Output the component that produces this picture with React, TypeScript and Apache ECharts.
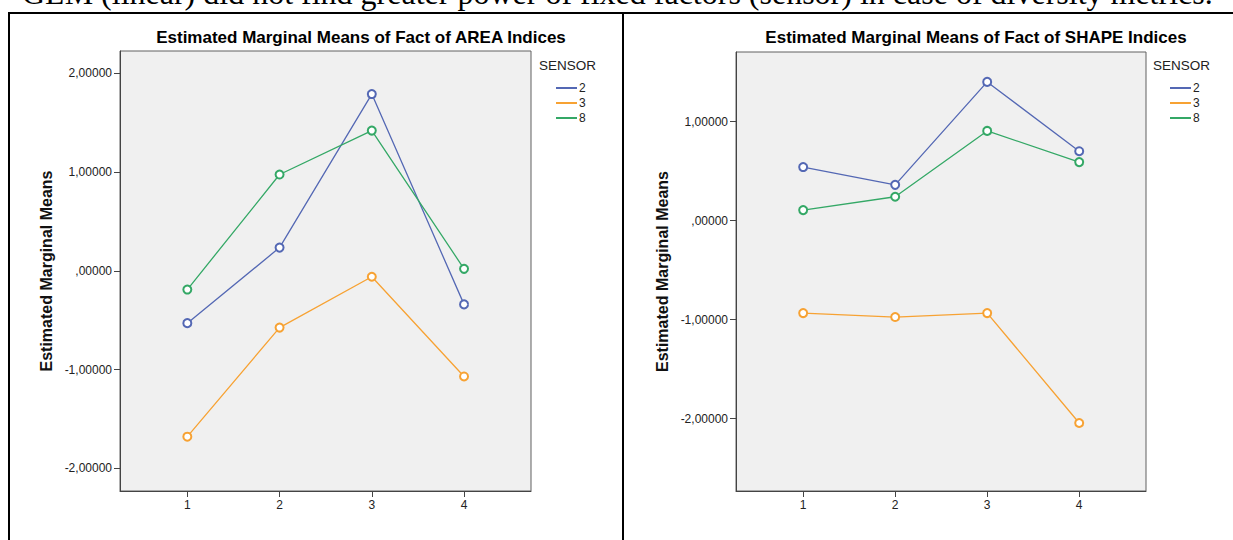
import React, { useEffect, useRef } from "react";
import * as echarts from "echarts";

const xCategories = [1, 2, 3, 4];
const sensorNames = ["2", "3", "8"];
const sensorColors = ["#5468b4", "#f7a233", "#34a866"];

// AREA indices
const areaSensor2 = [-0.53, 0.235, 1.79, -0.34];
const areaSensor3 = [-1.68, -0.575, -0.06, -1.07];
const areaSensor8 = [-0.19, 0.975, 1.42, 0.02];

// SHAPE indices
const shapeSensor2 = [0.54, 0.36, 1.4, 0.7];
const shapeSensor3 = [-0.935, -0.975, -0.935, -2.045];
const shapeSensor8 = [0.105, 0.24, 0.905, 0.59];

const yTicks = [-2, -1, 0, 1, 2];

const topText =
  "GLM (linear) did not find greater power of fixed factors (sensor) in case of diversity metrics.";
const leftTitle = "Estimated Marginal Means of Fact of AREA Indices";
const rightTitle = "Estimated Marginal Means of Fact of SHAPE Indices";
const yName = "Estimated Marginal Means";

const fmtY = (v: number) => (v === 0 ? ",00000" : v.toFixed(5).replace(".", ","));

export default function App() {
  const ref = useRef<HTMLDivElement>(null);
  useEffect(() => {
    if (!ref.current) return;
    const chart = echarts.init(ref.current, undefined, { renderer: "svg" });
    const font = "Arial, 'Liberation Sans', sans-serif";

    const makeX = (gridIndex: number) => ({
      type: "value",
      gridIndex,
      min: 0.27,
      max: 4.726,
      splitLine: { show: false },
      axisLine: { show: true, onZero: false, lineStyle: { color: "#444", width: 1 } },
      axisTick: { show: true, length: 6, customValues: xCategories, lineStyle: { color: "#444" } },
      axisLabel: {
        customValues: xCategories,
        formatter: (v: number) => String(Math.round(v)),
        color: "#222",
        fontSize: 12,
        fontFamily: font,
        margin: 8,
      },
    });
    const makeY = (gridIndex: number, min: number, max: number) => ({
      type: "value",
      gridIndex,
      min,
      max,
      name: yName,
      nameLocation: "middle",
      nameRotate: 90,
      nameGap: 66,
      nameTextStyle: { fontWeight: "bold", fontSize: 16, color: "#111", fontFamily: font },
      splitLine: { show: false },
      axisLine: { show: true, onZero: false, lineStyle: { color: "#444", width: 1 } },
      axisTick: { show: true, length: 6, customValues: yTicks, lineStyle: { color: "#444" } },
      axisLabel: {
        customValues: yTicks,
        formatter: fmtY,
        color: "#222",
        fontSize: 12,
        fontFamily: font,
        margin: 8,
      },
    });

    const mk = (name: string, vals: number[], idx: number, color: string) => ({
      type: "line",
      name,
      xAxisIndex: idx,
      yAxisIndex: idx,
      data: vals.map((v, i) => [xCategories[i], v]),
      symbol: "emptyCircle",
      symbolSize: 8,
      lineStyle: { color, width: 1.3 },
      itemStyle: { color, borderWidth: 1.2 },
      z: 3,
    });

    const legendBase = (left: number) => ({
      orient: "vertical",
      left,
      top: 76,
      data: sensorNames,
      icon: "rect",
      itemWidth: 21,
      itemHeight: 2,
      itemGap: 1,
      selectedMode: false,
      textStyle: { fontSize: 12, color: "#222", fontFamily: font, lineHeight: 14, padding: [0, 0, 0, -3] },
    });

    const option: any = {
      animation: false,
      backgroundColor: "#ffffff",
      grid: [
        { left: 120, top: 51, width: 411, height: 440, show: true, backgroundColor: "#f0f0f0", borderColor: "#606060", borderWidth: 1 },
        { left: 736, top: 52, width: 410, height: 439, show: true, backgroundColor: "#f0f0f0", borderColor: "#606060", borderWidth: 1 },
      ],
      xAxis: [makeX(0), makeX(1)],
      yAxis: [makeY(0, -2.23, 2.226), makeY(1, -2.732, 1.702)],
      legend: [legendBase(551), legendBase(1165)],
      series: [
        mk(sensorNames[0], areaSensor2, 0, sensorColors[0]),
        mk(sensorNames[1], areaSensor3, 0, sensorColors[1]),
        mk(sensorNames[2], areaSensor8, 0, sensorColors[2]),
        mk(sensorNames[0], shapeSensor2, 1, sensorColors[0]),
        mk(sensorNames[1], shapeSensor3, 1, sensorColors[1]),
        mk(sensorNames[2], shapeSensor8, 1, sensorColors[2]),
      ],
      graphic: [
        {
          type: "text",
          x: 22,
          y: -7,
          style: {
            text: topText,
            font: "32px 'Liberation Serif', 'Times New Roman', serif",
            fill: "#000",
            verticalAlign: "middle",
            align: "left",
          },
        },
        { type: "line", shape: { x1: 8, y1: 13, x2: 1233, y2: 13 }, style: { stroke: "#000", lineWidth: 2 } },
        { type: "line", shape: { x1: 9, y1: 12, x2: 9, y2: 540 }, style: { stroke: "#000", lineWidth: 2 } },
        { type: "line", shape: { x1: 623, y1: 12, x2: 623, y2: 540 }, style: { stroke: "#000", lineWidth: 2 } },
        {
          type: "text",
          x: 361,
          y: 37,
          style: { text: leftTitle, font: `bold 17px ${font}`, fill: "#000", align: "center", verticalAlign: "middle" },
        },
        {
          type: "text",
          x: 976,
          y: 37,
          style: { text: rightTitle, font: `bold 17px ${font}`, fill: "#000", align: "center", verticalAlign: "middle" },
        },
        {
          type: "text",
          x: 539,
          y: 65,
          style: { text: "SENSOR", font: `13.5px ${font}`, fill: "#222", align: "left", verticalAlign: "middle" },
        },
        {
          type: "text",
          x: 1153,
          y: 65,
          style: { text: "SENSOR", font: `13.5px ${font}`, fill: "#222", align: "left", verticalAlign: "middle" },
        },
      ],
    };
    chart.setOption(option);
    return () => chart.dispose();
  }, []);
  return (
    <div
      ref={ref}
      style={{ position: "fixed", left: 0, top: 0, width: 1233, height: 540, background: "#fff" }}
    />
  );
}
